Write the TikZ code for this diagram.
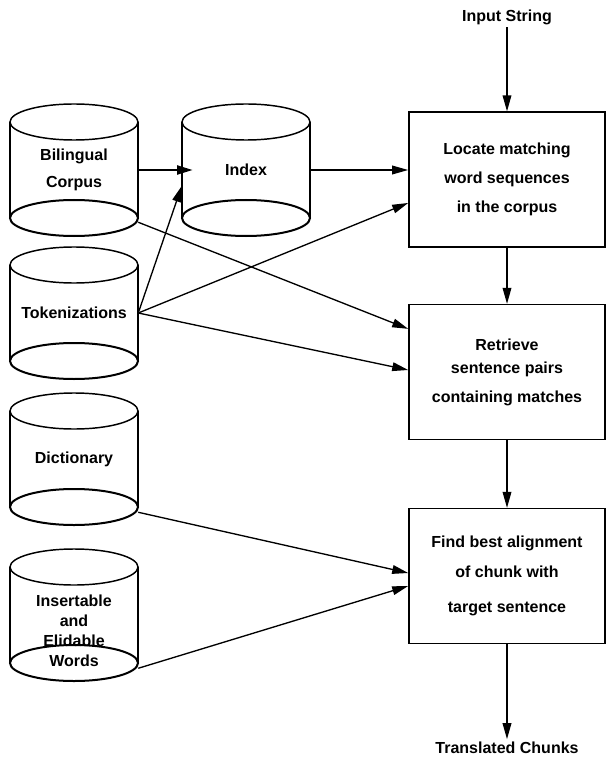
\documentclass[tikz,border=0pt]{standalone}
\usepackage{fontspec}
\setmainfont{Liberation Sans}
\usetikzlibrary{arrows.meta}
\tikzset{>={Triangle[length=12pt,width=6.5pt]}}
\tikzset{
  dbnode/.style={minimum width=96pt,minimum height=99pt,inner sep=0pt},
  dblabel/.style={align=center,inner sep=2pt,font=\bfseries\fontsize{12}{15}\selectfont},
  stepbox/.style={draw,line width=1.2pt,minimum width=147pt,minimum height=101pt,
    align=center,font=\bfseries\fontsize{12}{21.75}\selectfont},
  flow/.style={->,line width=1pt},
}
% #1 label shift, #2 name, #3 x centre, #4 top, #5 label
\newcommand{\database}[5][0pt]{%
  \draw[line width=1.1pt] (#3,#4+18) ellipse [x radius=48pt,y radius=13.5pt];
  \draw[line width=1.1pt] (#3-64,#4+18) -- (#3-64,#4+114) (#3+64,#4+18) -- (#3+64,#4+114);
  \draw[line width=1.5pt] (#3,#4+114) ellipse [x radius=48pt,y radius=13.5pt];
  \node[dbnode] (#2) at (#3,#4+66) {};
  \node[dblabel] (#2-label) at ([yshift=#1]#2.center) {#5};
}

\begin{document}
\begin{tikzpicture}[x=0.75pt,y=-0.75pt]
\useasboundingbox (0,0) rectangle (606,759);
% data files
\database{corpus}{74}{104}{Bilingual\\[5.25pt]Corpus}
\database{index}{246}{104}{Index}
\database{tok}{74}{247}{Tokenizations}
\database{dict}{74}{393}{Dictionary}
\database[-12pt]{elide}{74}{549}{Insertable\\and\\Elidable\\Words}
% processing steps
\node[stepbox] (locate) at (507,179.5) {Locate matching\\word sequences\\in the corpus};
\node[stepbox] (retrieve) at (507,372) {Retrieve\\[-4.5pt]sentence pairs\\containing matches};
\node[stepbox] (align) at (507,576) {Find best alignment\\[0.75pt]of chunk with\\[4.5pt]target sentence};
\node[dblabel] (input) at (507,17) {Input String};
\node[dblabel] (output) at (507,748) {Translated Chunks};
% connectors
\draw[flow,line width=2.2pt] (corpus.east) -- ([xshift=8.5pt]index.west);
\draw[flow] (tok.east) -- ([yshift=-12pt]index.west);
\draw[flow] (index.east) -- (index.east -| locate.west);
\draw[flow] (tok.east) -- ([yshift=-17.6pt]locate.west);
\draw[flow] ([yshift=10.5pt]corpus.south east) -- ([yshift=-18.75pt]retrieve.north west);
\draw[flow] (tok.east) -- ([yshift=1.5pt]retrieve.west);
\draw[flow] ([yshift=9.75pt]dict.south east) -- ([yshift=2.25pt]align.west);
\draw[flow] ([yshift=9.75pt]elide.south east) -- ([yshift=-7.5pt]align.west);
\draw[flow] (input) -- (locate);
\draw[flow] (locate) -- (retrieve);
\draw[flow] (retrieve) -- (align);
\draw[flow] (align) -- (output);
\end{tikzpicture}
\end{document}
